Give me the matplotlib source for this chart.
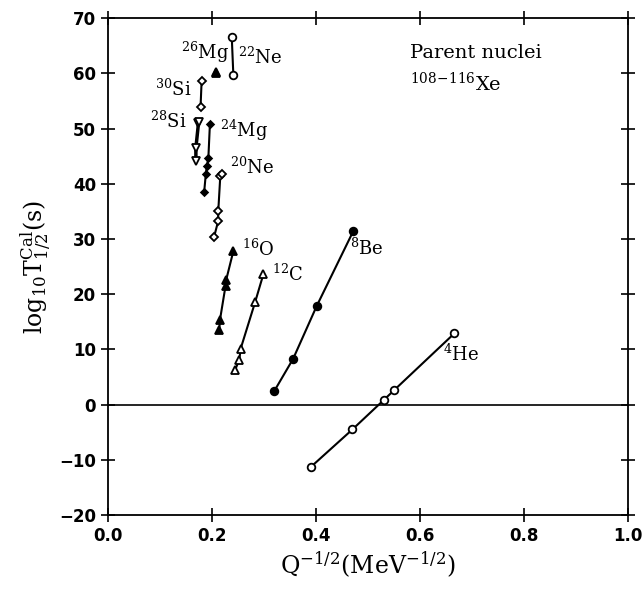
import matplotlib
matplotlib.use('Agg')
from matplotlib import pyplot as plt

plt.rcParams['mathtext.fontset'] = 'dejavuserif'

# Q^-1/2 (x) and log10 T1/2 (y) for each emitted cluster
he4_x = [0.39, 0.47, 0.531, 0.55, 0.666]
he4_y = [-11.3, -4.5, 0.9, 2.6, 12.9]
be8_x = [0.32, 0.356, 0.401, 0.472]
be8_y = [2.5, 8.3, 17.8, 31.5]
c12_x = [0.244, 0.2526, 0.255, 0.283, 0.299]
c12_y = [6.2, 8.15, 10.1, 18.6, 23.7]
o16_x = [0.214, 0.2154, 0.226, 0.227, 0.241]
o16_y = [13.6, 15.4, 21.5, 22.5, 27.8]
ne20_x = [0.204, 0.212, 0.212, 0.216, 0.219]
ne20_y = [30.4, 33.3, 35.0, 41.5, 41.8]
mg24_x = [0.185, 0.188, 0.19, 0.193, 0.196]
mg24_y = [38.6, 41.7, 43.2, 44.7, 50.9]
si28_x = [0.169, 0.169, 0.174, 0.175]
si28_y = [44.1, 46.5, 51.0, 51.3]
si30_x = [0.178, 0.180]
si30_y = [54.0, 58.6]
mg26_x = [0.207, 0.208]
mg26_y = [60.0, 60.3]
ne22_x = [0.238, 0.241]
ne22_y = [66.6, 59.8]

fig = plt.figure(figsize=(6.44, 5.96), dpi=100)
ax = fig.add_axes([0.1677, 0.1359, 0.8075, 0.8334])

ax.axhline(0, color='black', linewidth=1.2)

k = dict(color='black', linewidth=1.5, markersize=5.5, markeredgewidth=1.3)
ax.plot(he4_x, he4_y, marker='o', markerfacecolor='white', **k)
ax.plot(be8_x, be8_y, marker='o', markerfacecolor='black', **k)
ax.plot(c12_x, c12_y, marker='^', markerfacecolor='white', **k)
ax.plot(o16_x, o16_y, marker='^', markerfacecolor='black', **k)
ax.plot(ne20_x, ne20_y, marker='D', markerfacecolor='white', **dict(k, markersize=4.5))
ax.plot(mg24_x, mg24_y, marker='D', markerfacecolor='black', **dict(k, markersize=3.5))
ax.plot(si28_x, si28_y, marker='v', markerfacecolor='white', **dict(k, linewidth=2.5))
ax.plot(si30_x, si30_y, marker='D', markerfacecolor='white', **dict(k, markersize=4.5))
ax.plot(mg26_x, mg26_y, marker='^', markerfacecolor='black', **k)
ax.plot(ne22_x, ne22_y, marker='o', markerfacecolor='white', **k)

lab = dict(fontsize=13, family='DejaVu Serif', va='center', ha='left')
ax.text(0.140, 63.8, r'$^{26}$Mg', **lab)
ax.text(0.250, 63.0, r'$^{22}$Ne', **lab)
ax.text(0.090, 57.1, r'$^{30}$Si', **lab)
ax.text(0.081, 51.3, r'$^{28}$Si', **lab)
ax.text(0.215, 49.6, r'$^{24}$Mg', **lab)
ax.text(0.235, 43.1, r'$^{20}$Ne', **lab)
ax.text(0.258, 28.1, r'$^{16}$O', **lab)
ax.text(0.315, 23.6, r'$^{12}$C', **lab)
ax.text(0.465, 28.3, r'$^{8}$Be', **lab)
ax.text(0.644, 9.2, r'$^{4}$He', **lab)
ax.text(0.581, 63.8, 'Parent nuclei', fontsize=14, family='DejaVu Serif', va='center')
ax.text(0.581, 58.2, r'$^{108\!-\!116}$Xe', fontsize=14, family='DejaVu Serif', va='center')

ax.set_xlim(0, 1.0)
ax.set_ylim(-20, 70)
ax.set_xticks([0.0, 0.2, 0.4, 0.6, 0.8, 1.0])
ax.set_yticks(range(-20, 71, 10))
ax.tick_params(direction='inout', length=10, width=1.2, top=True, right=True, labelsize=12)
for t in ax.get_xticklabels() + ax.get_yticklabels():
    t.set_fontweight('bold')
for s in ax.spines.values():
    s.set_linewidth(1.3)

ax.set_xlabel(r'Q$^{-1/2}$(MeV$^{-1/2}$)', fontsize=17, family='DejaVu Serif')
ax.set_ylabel(r'$\mathrm{log}_{10}\mathrm{T}^{\mathrm{Cal}}_{1/2}$(s)', fontsize=17, family='DejaVu Serif')

fig.savefig('out.png', dpi=100)
